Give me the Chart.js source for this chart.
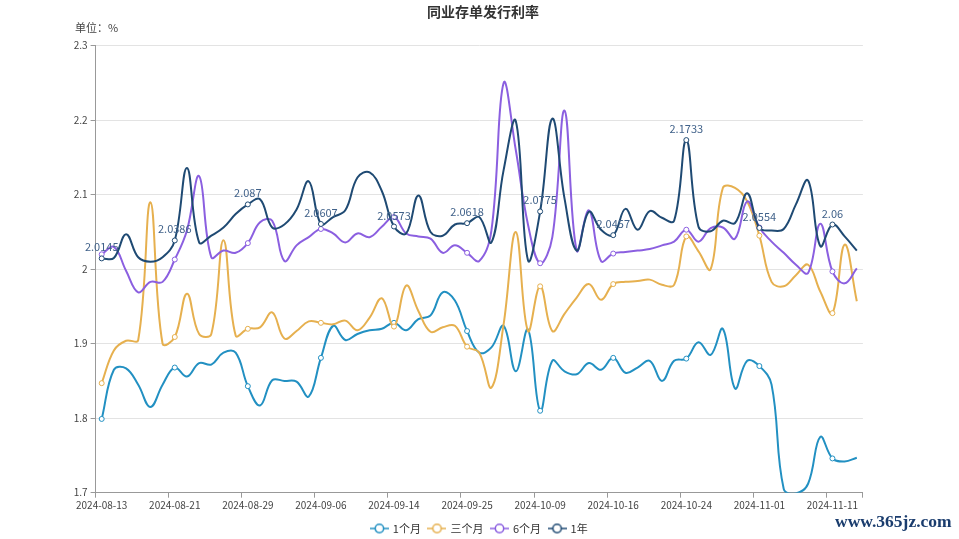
<!DOCTYPE html>
<html>
<head>
<meta charset="utf-8">
<script src="https://cdn.jsdelivr.net/npm/chart.js@4/dist/chart.umd.min.js"></script>
<style>
  html, body { margin: 0; padding: 0; background: #fff; }
  canvas { display: block; }
</style>
</head>
<body>
<canvas id="chart" width="959" height="539"></canvas>
<script>
// 同业存单发行利率 (%)
const dates = [
  "2024-08-13", "2024-08-14", "2024-08-15", "2024-08-16", "2024-08-19", "2024-08-20",
  "2024-08-21", "2024-08-22", "2024-08-23", "2024-08-26", "2024-08-27", "2024-08-28",
  "2024-08-29", "2024-08-30", "2024-09-02", "2024-09-03", "2024-09-04", "2024-09-05",
  "2024-09-06", "2024-09-09", "2024-09-10", "2024-09-11", "2024-09-12", "2024-09-13",
  "2024-09-14", "2024-09-18", "2024-09-19", "2024-09-20", "2024-09-23", "2024-09-24",
  "2024-09-25", "2024-09-26", "2024-09-27", "2024-09-29", "2024-09-30", "2024-10-08",
  "2024-10-09", "2024-10-10", "2024-10-11", "2024-10-12", "2024-10-14", "2024-10-15",
  "2024-10-16", "2024-10-17", "2024-10-18", "2024-10-21", "2024-10-22", "2024-10-23",
  "2024-10-24", "2024-10-25", "2024-10-28", "2024-10-29", "2024-10-30", "2024-10-31",
  "2024-11-01", "2024-11-04", "2024-11-05", "2024-11-06", "2024-11-07", "2024-11-08",
  "2024-11-11", "2024-11-12", "2024-11-13"
];

const oneMonth = [
  1.799, 1.865, 1.867, 1.845, 1.815, 1.845, 1.868, 1.856, 1.874, 1.872, 1.888, 1.888,
  1.843, 1.817, 1.851, 1.850, 1.849, 1.829, 1.881, 1.924, 1.905, 1.913, 1.918, 1.920,
  1.928, 1.918, 1.933, 1.938, 1.969, 1.958, 1.917, 1.888, 1.895, 1.924, 1.863, 1.919,
  1.810, 1.877, 1.863, 1.859, 1.874, 1.865, 1.881, 1.861, 1.868, 1.877, 1.850, 1.877,
  1.880, 1.902, 1.885, 1.920, 1.840, 1.877, 1.870, 1.845, 1.705, 1.699, 1.712, 1.775,
  1.746, 1.742, 1.747
];

const threeMonth = [
  1.847, 1.891, 1.904, 1.905, 2.090, 1.900, 1.909, 1.967, 1.913, 1.913, 2.039, 1.911,
  1.920, 1.922, 1.942, 1.907, 1.917, 1.930, 1.928, 1.926, 1.931, 1.918, 1.935, 1.961,
  1.923, 1.978, 1.944, 1.916, 1.922, 1.924, 1.896, 1.888, 1.841, 1.926, 2.050, 1.917,
  1.977, 1.917, 1.940, 1.962, 1.980, 1.959, 1.980, 1.983, 1.984, 1.986, 1.979, 1.979,
  2.044, 2.024, 2.000, 2.109, 2.109, 2.091, 2.045, 1.983, 1.977, 1.992, 2.006, 1.970,
  1.941, 2.033, 1.957
];

const sixMonth = [
  2.020, 2.030, 1.998, 1.969, 1.983, 1.983, 2.013, 2.052, 2.125, 2.016, 2.025, 2.022,
  2.035, 2.063, 2.065, 2.011, 2.032, 2.043, 2.054, 2.048, 2.036, 2.048, 2.043, 2.057,
  2.070, 2.048, 2.044, 2.041, 2.022, 2.032, 2.022, 2.011, 2.052, 2.250, 2.160, 2.060,
  2.008, 2.043, 2.213, 2.025, 2.079, 2.011, 2.021, 2.023, 2.025, 2.027, 2.032, 2.037,
  2.053, 2.037, 2.055, 2.056, 2.041, 2.091, 2.056, 2.037, 2.022, 2.006, 1.995, 2.061,
  1.997, 1.981, 2.001
];

const oneYear = [
  2.0145, 2.015, 2.047, 2.016, 2.010, 2.016, 2.0386, 2.136, 2.036, 2.045, 2.056, 2.074,
  2.087, 2.094, 2.056, 2.060, 2.080, 2.118, 2.0607, 2.070, 2.079, 2.123, 2.130, 2.105,
  2.0573, 2.048, 2.099, 2.050, 2.045, 2.060, 2.0618, 2.070, 2.036, 2.133, 2.199, 2.012,
  2.0775, 2.202, 2.095, 2.025, 2.077, 2.053, 2.0457, 2.081, 2.053, 2.078, 2.069, 2.065,
  2.1733, 2.057, 2.051, 2.065, 2.062, 2.102, 2.0554, 2.052, 2.054, 2.087, 2.119, 2.031,
  2.06, 2.044, 2.025
];

const seriesNames = ["1个月", "三个月", "6个月", "1年"];
const yTickValues = [1.7, 1.8, 1.9, 2.0, 2.1, 2.2, 2.3];

const colors = ["#2290c2", "#e6b04f", "#8b5fe0", "#1f4a73"];
const every = 6;

Chart.defaults.font.family = "'Noto Sans CJK SC', 'Noto Sans', sans-serif";
Chart.defaults.color = "#444";

function legendIcon(color) {
  const c = document.createElement("canvas");
  c.width = 19;
  c.height = 12;
  const g = c.getContext("2d");
  g.strokeStyle = color;
  g.lineWidth = 1.5;
  g.beginPath();
  g.moveTo(0, 6);
  g.lineTo(19, 6);
  g.stroke();
  g.beginPath();
  g.arc(9.5, 6, 4.2, 0, Math.PI * 2);
  g.fillStyle = "#fff";
  g.fill();
  g.stroke();
  return c;
}
const icons = colors.map(legendIcon);

function series(i, data, order) {
  return {
    label: seriesNames[i],
    data: data,
    order: order,
    yAxisID: "y",
    borderColor: colors[i],
    backgroundColor: colors[i],
    borderWidth: 2,
    tension: 0.4,
    pointRadius: ctx => ctx.dataIndex % every === 0 ? 2.5 : 0,
    pointHoverRadius: ctx => ctx.dataIndex % every === 0 ? 2.5 : 0,
    pointBackgroundColor: "#fff",
    pointBorderColor: colors[i],
    pointBorderWidth: 1
  };
}

// title, unit, labels on the 1年 line and the site mark
const extras = {
  id: "extras",
  afterDatasetsDraw(chart) {
    const ctx = chart.ctx;
    ctx.save();
    const meta = chart.getDatasetMeta(3);
    ctx.fillStyle = "#41628a";
    ctx.font = "11px 'Noto Sans CJK SC', 'Noto Sans', sans-serif";
    ctx.textAlign = "center";
    ctx.textBaseline = "alphabetic";
    meta.data.forEach((pt, i) => {
      if (i % every !== 0) return;
      ctx.fillText(String(oneYear[i]), pt.x, pt.y - 7);
    });
    ctx.restore();
  },
  afterDraw(chart) {
    const ctx = chart.ctx;
    ctx.save();
    ctx.fillStyle = "#333";
    ctx.textAlign = "center";
    ctx.textBaseline = "middle";
    ctx.font = "bold 14px 'Noto Sans CJK SC', sans-serif";
    ctx.fillText("同业存单发行利率", 483, 12);
    ctx.textAlign = "left";
    ctx.font = "11px 'Noto Sans CJK SC', sans-serif";
    ctx.fillStyle = "#444";
    ctx.fillText("单位：%", 75, 28);
    ctx.fillStyle = "#1b3d6e";
    ctx.font = "bold 17.5px 'Liberation Serif', serif";
    ctx.textBaseline = "alphabetic";
    ctx.fillText("www.365jz.com", 835, 527);
    ctx.restore();
  }
};

new Chart(document.getElementById("chart"), {
  type: "line",
  data: {
    labels: dates,
    datasets: [
      series(0, oneMonth, 3),
      series(1, threeMonth, 2),
      series(2, sixMonth, 1),
      series(3, oneYear, 0)
    ]
  },
  options: {
    responsive: false,
    devicePixelRatio: 1,
    animation: false,
    layout: { padding: { top: 45.7, right: 60, left: 60, bottom: -5 } },
    plugins: {
      title: { display: false },
      tooltip: { enabled: false },
      legend: {
        position: "bottom",
        labels: {
          usePointStyle: true,
          pointStyleWidth: 16,
          boxHeight: 11,
          padding: 8,
          color: "#333",
          font: { size: 11 },
          generateLabels(chart) {
            const items = Chart.defaults.plugins.legend.labels.generateLabels(chart);
            items.sort((a, b) => a.datasetIndex - b.datasetIndex);
            items.forEach(it => { it.pointStyle = icons[it.datasetIndex]; });
            return items;
          }
        }
      }
    },
    scales: {
      x: {
        type: "category",
        offset: true,
        afterFit(s) { s.height = 539 + 5 - 492.7 - s.chart.legend.height; },
        border: { color: "#999" },
        grid: {
          offset: true,
          drawOnChartArea: false,
          drawTicks: true,
          tickLength: 5,
          tickColor: c => (c.index === undefined || c.index % every === 0) ? "#999" : "rgba(0,0,0,0)"
        },
        ticks: {
          autoSkip: false,
          maxRotation: 0,
          padding: 2,
          color: "#444",
          font: { size: 10 },
          callback(v, i) { return i % every === 0 ? dates[i] : ""; }
        }
      },
      y: {
        position: "left",
        min: yTickValues[0],
        max: yTickValues[yTickValues.length - 1],
        afterFit(s) { s.width = 95.6 - 60; },
        afterBuildTicks(s) { s.ticks = yTickValues.map(v => ({ value: v })); },
        border: { color: "#999" },
        grid: { color: "#e3e3e3", tickColor: "#999", tickLength: 5 },
        ticks: {
          padding: 3,
          color: "#444",
          font: { size: 10 },
          callback(v) { return String(Number(v.toFixed(1))); }
        }
      },
      // empty right-hand box so the plot sits where the reference puts it
      spacer: {
        type: "linear",
        position: "right",
        min: 0,
        max: 1,
        afterFit(s) { s.width = 959 - 60 - 862.9; },
        border: { display: false },
        grid: { display: false },
        ticks: { display: false }
      }
    }
  },
  plugins: [extras]
});
</script>
</body>
</html>
